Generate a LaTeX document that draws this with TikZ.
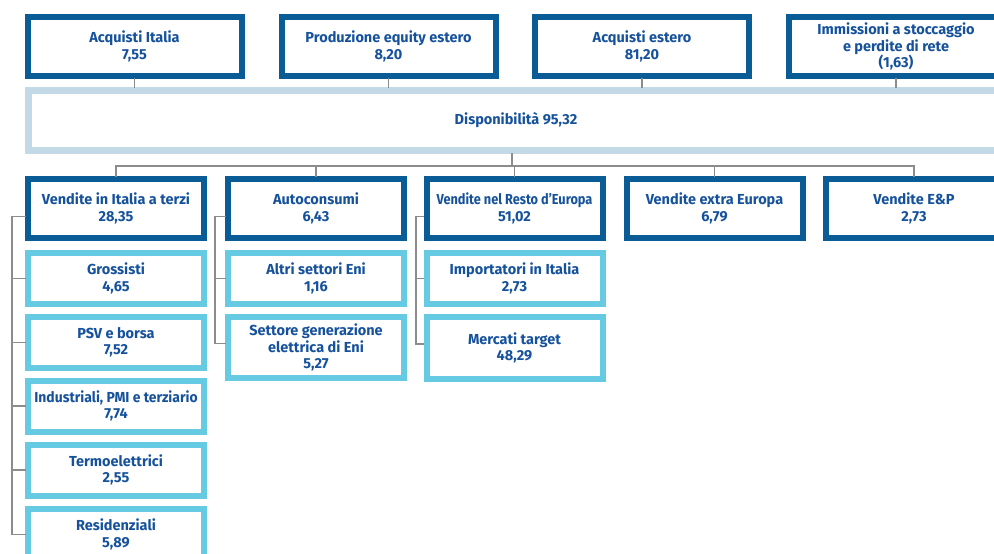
\documentclass[tikz,border=0pt]{standalone}
\usepackage{fontspec}
\setmainfont{Fira Sans}
\newfontfamily\narrowface{Fira Sans}[FakeStretch=0.88]
\newfontfamily\slimface{Fira Sans}[FakeStretch=0.96]
\usetikzlibrary{positioning}

\definecolor{eniblue}{RGB}{10,92,150}
\definecolor{enitext}{RGB}{22,82,156}
\definecolor{enicyan}{RGB}{102,203,226}
\definecolor{enipale}{RGB}{195,217,230}
\definecolor{enigrey}{RGB}{140,140,140}

\tikzset{
  flowbox/.style={fill=white,line width=6pt,align=center,inner sep=0pt,
    text=enitext,font=\bfseries\fontsize{14.5}{16.5}\selectfont},
  topbox/.style={flowbox,draw=eniblue,minimum width=214pt,minimum height=59pt},
  totbox/.style={flowbox,draw=enipale,line width=7pt,minimum width=975pt,minimum height=60pt},
  salebox/.style={flowbox,draw=eniblue,minimum width=176pt,minimum height=59pt},
  subbox/.style={flowbox,draw=enicyan,minimum width=176pt,minimum height=51pt},
  conn/.style={draw=enigrey,line width=1.2pt}
}

\begin{document}
\begin{tikzpicture}[x=1pt,y=-1pt,line cap=rect]
  \useasboundingbox (0,0) rectangle (994,554);
  \clip (0,0) rectangle (994,554);

  % approvvigionamenti
  \node[topbox] (acqIt) at (134.5,46.5) {Acquisti Italia\\7,55};
  \node[topbox] (prodEq) at (388.5,46.5) {Produzione equity estero\\8,20};
  \node[topbox] (acqEs) at (642,46.5) {Acquisti estero\\81,20};
  \node[topbox] (immis) at (896,46.5) {Immissioni a stoccaggio\\e perdite di rete\\(1,63)};

  \node[totbox] (disp) at (516,120.5) {Disponibilità 95,32};

  % vendite
  \node[salebox] (venIt) at (116,208.5) {Vendite in Italia a terzi\\28,35};
  \node[salebox] (autoc) at (316,208.5) {Autoconsumi\\6,43};
  \node[salebox] (venEu) at (514.5,208.5) {{\narrowface Vendite nel Resto d’Europa}\\51,02};
  \node[salebox] (venEx) at (714.5,208.5) {Vendite extra Europa\\6,79};
  \node[salebox] (venEP) at (914,208.5) {Vendite E\&P\\2,73};

  % dettaglio Italia
  \node[subbox] (gross) at (116,278.5) {Grossisti\\4,65};
  \node[subbox] (psv) at (116,342.5) {PSV e borsa\\7,52};
  \node[subbox] (indus) at (116,406) {{\slimface Industriali, PMI e terziario}\\7,74};
  \node[subbox] (termo) at (116,470) {Termoelettrici\\2,55};
  \node[subbox] (resid) at (116,534.5) {Residenziali\\5,89};

  \node[subbox] (altri) at (316,278.5) {Altri settori Eni\\1,16};
  \node[subbox,minimum height=61pt] (gener) at (316,347.5) {Settore generazione\\elettrica di Eni\\5,27};

  \node[subbox] (impor) at (514.5,278.5) {Importatori in Italia\\2,73};
  \node[subbox,minimum height=62pt] (merca) at (514.5,348) {Mercati target\\48,29};

  % connettori
  \foreach \n in {acqIt,prodEq,acqEs,immis}
    \draw[conn] (\n.south) -- (\n.south |- disp.north);

  \coordinate (hub) at (512,166);
  \draw[conn] (hub |- disp.south) -- (hub);
  \draw[conn] (venIt.north |- hub) -- (venEP.north |- hub);
  \foreach \n in {venIt,autoc,venEu,venEx,venEP}
    \draw[conn] (\n.north) -- (\n.north |- hub);

  \coordinate (brA) at (12,0);
  \coordinate (brB) at (215,0);
  \coordinate (brC) at (416,0);
  \draw[conn] ([yshift=-8pt]venIt.west) -- ([yshift=-8pt]venIt.west -| brA) |- (resid.west);
  \foreach \n in {gross,psv,indus,termo}
    \draw[conn] (\n.west -| brA) -- (\n.west);
  \draw[conn] ([yshift=-8pt]autoc.west) -- ([yshift=-8pt]autoc.west -| brB) |- ([yshift=4pt]gener.west);
  \draw[conn] (altri.west -| brB) -- (altri.west);
  \draw[conn] ([yshift=-8pt]venEu.west) -- ([yshift=-8pt]venEu.west -| brC) |- ([yshift=4pt]merca.west);
  \draw[conn] (impor.west -| brC) -- (impor.west);
\end{tikzpicture}
\end{document}
